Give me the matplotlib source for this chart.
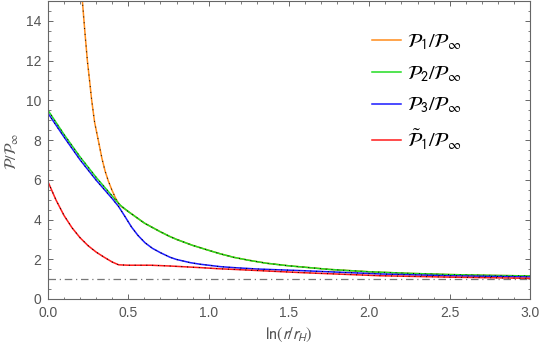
import matplotlib
matplotlib.use("Agg")
import matplotlib.pyplot as plt
import numpy as np
from matplotlib.ticker import MultipleLocator, FormatStrFormatter

plt.rcParams['mathtext.fontset'] = 'stixsans'
plt.rcParams['font.family'] = ['Liberation Sans', 'DejaVu Sans']

# green curve P2
x2 = [0.0, 0.1, 0.2, 0.3, 0.4, 0.45, 0.5, 0.6, 0.7, 0.76, 0.8, 0.9, 1.0, 1.07,
      1.155, 1.25, 1.36, 1.5, 1.57, 1.75, 2.0, 2.25, 2.5, 2.75, 3.0]
p2 = [9.50, 8.28, 7.15, 6.12, 5.18, 4.72, 4.40, 3.82, 3.38, 3.14, 3.00, 2.70, 2.45, 2.28,
      2.10, 1.95, 1.80, 1.67, 1.62, 1.49, 1.37, 1.29, 1.23, 1.19, 1.16]

# orange curve P1 (diverges near the horizon, joins P2 around 0.46)
x1 = [0.20, 0.214, 0.23, 0.245, 0.26, 0.272, 0.29, 0.314, 0.335, 0.355, 0.375, 0.397,
      0.418, 0.438, 0.46, 0.5, 0.6, 0.7, 0.76, 0.8, 0.9, 1.0, 1.07, 1.155, 1.25, 1.36,
      1.5, 1.57, 1.75, 2.0, 2.25, 2.5, 2.75, 3.0]
p1 = [16.5, 15.0, 13.4, 12.0, 10.9, 10.0, 8.9, 7.95, 7.1, 6.45, 5.95, 5.5,
      5.12, 4.82, 4.63, 4.40, 3.82, 3.38, 3.14, 3.00, 2.70, 2.45, 2.28, 2.10, 1.95, 1.80,
      1.67, 1.62, 1.49, 1.37, 1.29, 1.23, 1.19, 1.16]

# blue curve P3
x3 = [0.0, 0.1, 0.2, 0.3, 0.4, 0.44, 0.48, 0.52, 0.56, 0.604, 0.65, 0.7, 0.76, 0.8,
      0.885, 0.947, 1.0, 1.07, 1.155, 1.3, 1.57, 1.75, 2.07, 2.5, 3.0]
p3 = [9.35, 8.15, 7.00, 5.98, 5.05, 4.65, 4.14, 3.62, 3.20, 2.83, 2.55, 2.33, 2.10, 1.99,
      1.83, 1.75, 1.70, 1.63, 1.58, 1.51, 1.43, 1.37, 1.26, 1.17, 1.11]

# red curve P1 tilde
x4 = [0.0, 0.05, 0.1, 0.15, 0.2, 0.25, 0.3, 0.35, 0.4, 0.44, 0.5, 0.64, 0.76, 0.947,
      1.07, 1.155, 1.57, 2.07, 2.5, 3.0]
p4 = [5.90, 4.98, 4.20, 3.58, 3.08, 2.68, 2.36, 2.10, 1.86, 1.72, 1.70, 1.70, 1.66, 1.58,
      1.52, 1.49, 1.33, 1.17, 1.10, 1.04]

labels = [r'$\mathcal{P}_1/\mathcal{P}_\infty$',
          r'$\mathcal{P}_2/\mathcal{P}_\infty$',
          r'$\mathcal{P}_3/\mathcal{P}_\infty$',
          r'$\tilde{\mathcal{P}}_1/\mathcal{P}_\infty$']
colors = ['#ff8c1a', '#22dd22', '#1a1aff', '#ff1a1a']

fig = plt.figure(figsize=(5.4, 3.48), dpi=100)
ax = fig.add_axes([48/540, 1 - 299/348, 482/540, 298/348])

series = [(x1, p1), (x2, p2), (x3, p3), (x4, p4)]
handles = []
for (xs, ys), c, lab in zip(series, colors, labels):
    h, = ax.plot(xs, ys, color=c, lw=1.1, label=lab)
    handles.append(h)
    # dotted black overlay like the reference
    ax.plot(xs, ys, color='black', lw=0.7, linestyle=(0, (1, 5)))

ax.axhline(1.0, color='#777777', lw=0.9, linestyle=(0, (6, 3, 1, 3)))

ax.set_xlim(0, 3)
ax.set_ylim(0, 15)
ax.xaxis.set_major_locator(MultipleLocator(0.5))
ax.xaxis.set_minor_locator(MultipleLocator(0.1))
ax.yaxis.set_major_locator(MultipleLocator(2))
ax.yaxis.set_minor_locator(MultipleLocator(0.5))
ax.xaxis.set_major_formatter(FormatStrFormatter('%.1f'))

ax.tick_params(which='both', direction='in', top=True, right=True,
               color='#666666', labelcolor='#555555', labelsize=10)
ax.tick_params(which='major', length=3.3, width=0.7)
ax.tick_params(which='minor', length=1.8, width=0.6)
ax.tick_params(axis='y', pad=5)
ax.tick_params(axis='x', pad=5)
for sp in ax.spines.values():
    sp.set_color('#666666')
    sp.set_linewidth(0.8)

ax.set_xlabel(r'$\mathrm{ln}(r/r_H)$', color='#555555', fontsize=12, labelpad=4)
fig.text(12/540, 1 - 151/348, r'$\mathcal{P}/\mathcal{P}_\infty$', rotation=90,
         color='#555555', fontsize=11.5, ha='center', va='center')

ax.legend(handles=handles, loc='upper left', bbox_to_anchor=(354/540, 1 - 14/348),
          bbox_transform=fig.transFigure, frameon=False, fontsize=14.5,
          handlelength=1.45, handletextpad=0.3, labelspacing=0.6)

fig.savefig('out.png', dpi=100)
